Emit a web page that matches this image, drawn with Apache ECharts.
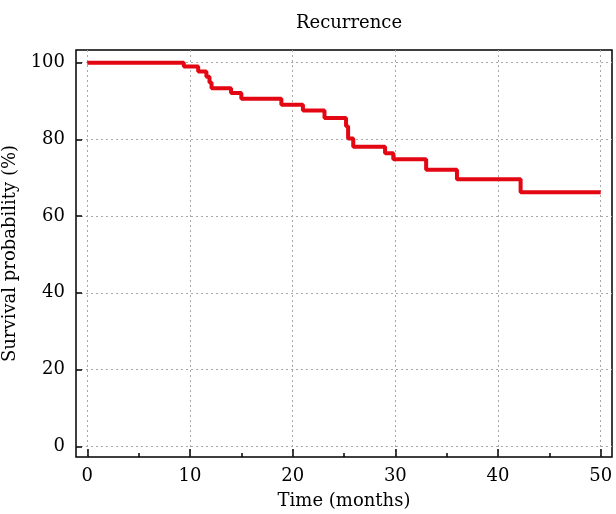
<!DOCTYPE html>
<html>
<head>
<meta charset="utf-8">
<script src="https://cdn.jsdelivr.net/npm/echarts@6/dist/echarts.min.js"></script>
<style>
  html, body { margin: 0; padding: 0; background: #fff; }
</style>
</head>
<body>
<div id="container" style="width: 616px; height: 514px;"></div>
<script>
// Kaplan-Meier steps
var timeMonths = [0, 9.4, 10.8, 11.6, 11.9, 12.1, 14.0, 15.0, 18.9, 21.0, 23.1, 25.2, 25.4, 25.9, 29.0, 29.8, 33.0, 36.0, 42.2, 50];
var survival = [100, 99.0, 97.7, 96.3, 94.8, 93.3, 92.1, 90.6, 89.0, 87.5, 85.6, 83.4, 80.2, 78.1, 76.4, 74.8, 72.1, 69.6, 66.2, 66.2];

var xTicks = [0, 10, 20, 30, 40, 50];
var xMinorTicks = [5, 15, 25, 35, 45];
var yTicks = [0, 20, 40, 60, 80, 100];

var chart = echarts.init(document.getElementById('container'));
var font = 'DejaVu Serif';

var points = [];
for (var i = 0; i < timeMonths.length; i++) {
  points.push([timeMonths[i], survival[i]]);
}

var gridLine = {
  show: true,
  lineStyle: { color: '#a8a8a8', width: 1, type: [2, 3] }
};

var option = {
  animation: false,
  backgroundColor: '#fff',
  title: {
    text: 'Recurrence',
    left: 344,
    top: 9,
    textAlign: 'center',
    textStyle: { fontFamily: font, fontSize: 18, fontWeight: 'normal', color: '#000' }
  },
  grid: {
    left: 76,
    right: 4,
    top: 50,
    bottom: 57,
    outerBoundsMode: 'none',
    containLabel: false,
    show: true,
    borderColor: '#000',
    borderWidth: 1.5,
    backgroundColor: 'transparent'
  },
  xAxis: [{
    type: 'value',
    min: -1.1,
    max: 51.1,
    name: 'Time (months)',
    nameLocation: 'middle',
    nameGap: 35,
    nameTextStyle: { fontFamily: font, fontSize: 18, color: '#000' },
    axisLine: { show: false, onZero: false },
    axisTick: { show: true, inside: true, length: 8, customValues: xTicks, lineStyle: { color: '#000', width: 1.5 } },
    axisLabel: { customValues: xTicks, margin: 10, fontFamily: font, fontSize: 18, color: '#000' },
    splitLine: gridLine
  }, {
    type: 'value',
    position: 'bottom',
    min: -1.1,
    max: 51.1,
    axisLine: { show: false, onZero: false },
    axisTick: { show: true, inside: true, length: 4, customValues: xMinorTicks, lineStyle: { color: '#000', width: 1.5 } },
    axisLabel: { show: false },
    splitLine: { show: false }
  }],
  yAxis: {
    type: 'value',
    min: -2.8,
    max: 103.3,
    name: 'Survival probability (%)',
    nameLocation: 'middle',
    nameGap: 48,
    nameTextStyle: { fontFamily: font, fontSize: 18, color: '#000' },
    axisLine: { show: false, onZero: false },
    axisTick: { show: true, inside: true, length: 6, customValues: yTicks, lineStyle: { color: '#000', width: 1.5 } },
    axisLabel: { customValues: yTicks, margin: 11, fontFamily: font, fontSize: 18, color: '#000' },
    splitLine: gridLine
  },
  series: [{
    name: 'Recurrence',
    type: 'line',
    step: 'end',
    xAxisIndex: 0,
    data: points,
    showSymbol: false,
    symbol: 'none',
    lineStyle: { color: '#e30613', width: 4 }
  }]
};

chart.setOption(option);
</script>
</body>
</html>
